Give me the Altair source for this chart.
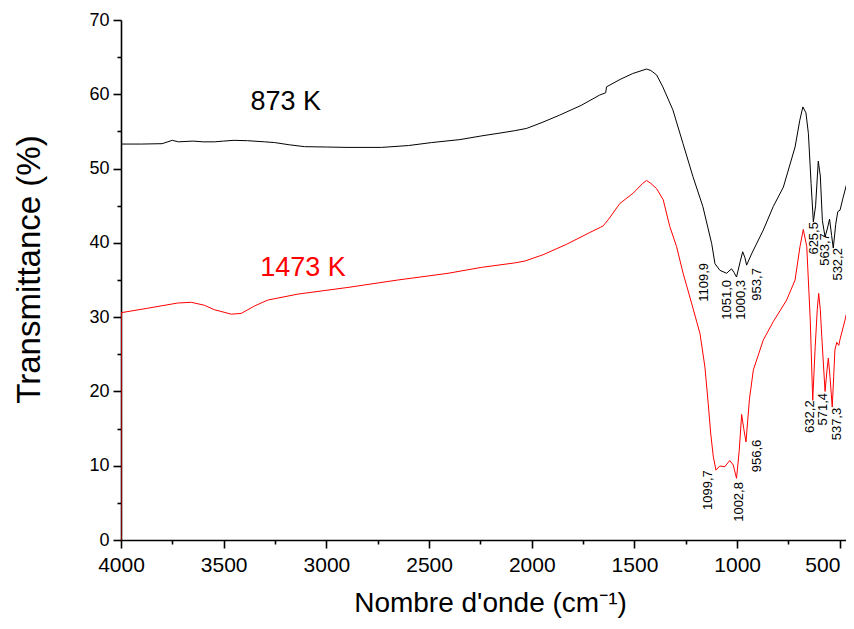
import altair as alt
import pandas as pd

# ---- data ----
black_wn = [4000, 3900, 3800, 3750, 3720, 3650, 3600, 3545, 3500, 3450, 3384, 3300, 3252, 3180, 3106,
            3000, 2900, 2731, 2600, 2488, 2350, 2244, 2150, 2083, 2026, 1950, 1864, 1760, 1669, 1640,
            1636, 1570, 1508, 1441, 1420, 1392, 1362, 1313, 1264, 1215, 1167, 1124, 1108, 1084, 1051,
            1040, 1027, 1015, 1003, 985, 973, 962, 954, 930, 873, 824, 775, 718, 695, 680, 665, 653,
            640, 629, 618, 605, 595, 585, 572, 560, 550, 540, 532, 520, 510, 499, 485, 466, 450, 431]
black_t = [53.3, 53.3, 53.35, 53.8, 53.6, 53.7, 53.6, 53.6, 53.7, 53.8, 53.75, 53.6, 53.5, 53.2, 52.95,
           52.9, 52.85, 52.85, 53.1, 53.5, 53.9, 54.4, 54.8, 55.1, 55.4, 56.2, 57.2, 58.5, 59.9, 60.2,
           61.0, 62.0, 62.8, 63.4, 63.2, 62.6, 61.0, 57.9, 53.4, 48.9, 44.9, 39.9, 37.2, 36.3, 35.9,
           36.2, 36.5, 36.0, 35.4, 37.5, 38.8, 38.0, 37.0, 38.5, 41.7, 44.9, 47.5, 52.9, 56.5, 58.3, 57.5, 54.7,
           48.0, 42.8, 45.0, 51.0, 49.0, 43.0, 40.8, 42.0, 43.2, 41.0, 39.3, 42.5, 44.2, 44.4, 46.0, 48.0, 51.0, 54.1]

red_wn = [4000, 3999, 3870, 3724, 3658, 3594, 3545, 3463, 3415, 3350, 3285, 3139, 2895, 2652, 2408,
          2245, 2083, 2034, 1945, 1831, 1717, 1665, 1652, 1628, 1571, 1506, 1460, 1441, 1420, 1392,
          1360, 1328, 1295, 1263, 1222, 1181, 1157, 1141, 1129, 1116, 1103, 1085, 1060, 1036, 1019,
          1003, 990, 978, 968, 957, 940, 921, 873, 824, 759, 718, 694, 678, 661, 644, 632, 620, 610,
          603, 595, 588, 572, 562, 556, 548, 537, 530, 524, 515, 505, 500, 475, 455, 431]
red_t = [0.0, 30.6, 31.2, 31.9, 32.0, 31.6, 31.0, 30.4, 30.5, 31.5, 32.3, 33.1, 34.0, 35.0, 35.9,
         36.7, 37.3, 37.55, 38.4, 39.8, 41.4, 42.1, 42.3, 43.1, 45.3, 46.7, 48.0, 48.4, 48.0, 47.3,
         45.8, 42.2, 39.5, 35.9, 31.9, 27.8, 23.3, 18.4, 14.4, 11.2, 9.4, 9.96, 9.87, 10.7, 10.1,
         8.3, 12.0, 16.9, 15.0, 13.2, 19.0, 22.9, 26.9, 29.4, 32.3, 35.0, 39.5, 41.8, 39.5, 29.6, 18.8, 26.0, 31.0,
         33.2, 31.0, 27.4, 20.0, 23.0, 24.5, 22.0, 17.9, 22.0, 25.6, 26.6, 26.2, 26.9, 29.6, 32.0, 35.0]

series_names = ["873 K", "1473 K"]
series_colors = ["#000000", "#ff0000"]

peak_labels = ["1109,9", "1051,0", "1000,3", "953,7", "625,5", "563,7", "532,2",
               "1099,7", "1002,8", "956,6", "632,2", "571,4", "537,3"]
peak_x = [1162, 1050, 981, 904, 626, 572, 508,
          1142, 991, 904, 645, 582, 514]
peak_y = [37.3, 35.0, 35.0, 36.6, 42.8, 41.3, 39.3,
          9.4, 7.8, 13.5, 18.8, 19.8, 17.8]

name_x = [3370, 3322]
name_y = [59.0, 36.6]

x_major = [4000, 3500, 3000, 2500, 2000, 1500, 1000, 500]
x_minor = [3750, 3250, 2750, 2250, 1750, 1250, 750]
y_major = [0, 10, 20, 30, 40, 50, 60, 70]
y_minor = [5, 15, 25, 35, 45, 55, 65]

# ---- tables ----
rows = []
for i, (w, t) in enumerate(zip(black_wn, black_t)):
    rows.append({"wn": w, "t": t, "s": series_names[0], "i": i})
for i, (w, t) in enumerate(zip(red_wn, red_t)):
    rows.append({"wn": w, "t": t, "s": series_names[1], "i": i})
df = pd.DataFrame(rows)
peaks = pd.DataFrame({"lab": peak_labels, "wn": peak_x, "t": peak_y})
names = pd.DataFrame({"lab": series_names, "wn": name_x, "t": name_y})

SANS = "Liberation Sans, Arial, Helvetica, sans-serif"
XDOM = [4000, 470]
xscale = alt.Scale(domain=XDOM, zero=False, nice=False)
yscale = alt.Scale(domain=[0, 70], nice=False, zero=False)

AX_COMMON = dict(domainColor="black", domainWidth=1.6, tickColor="black", tickWidth=1.6, grid=False)

x_main = alt.X("wn:Q", scale=xscale,
               axis=alt.Axis(values=x_major, format="d", tickSize=8, labelFont=SANS,
                             labelFontSize=21, labelColor="black", labelPadding=6,
                             labelAlign=alt.condition(alt.datum.value == 500, alt.value("right"),
                                                      alt.value("center")),
                             title="Nombre d'onde (cm\u207b\u00b9)", titleFont=SANS,
                             titleFontSize=28, titleFontWeight="normal", titleColor="black",
                             titleX=369, titleY=63, titleAlign="center", titleBaseline="middle",
                             orient="bottom", labelFlush=False, labelOverlap=False, **AX_COMMON))
y_main = alt.Y("t:Q", scale=yscale,
               axis=alt.Axis(values=y_major, tickSize=8, labelFont=SANS, labelFontSize=18,
                             labelColor="black", labelPadding=4,
                             title="Transmittance (%)", titleFont=SANS, titleFontSize=33,
                             titleFontWeight="normal", titleColor="black", titleAngle=-90,
                             titleX=-92, titleY=249, titleAlign="center", titleBaseline="middle",
                             orient="left", labelFlush=False, **AX_COMMON))

lines = alt.Chart(df).mark_line(strokeWidth=1, clip=True).encode(
    x=x_main, y=y_main,
    color=alt.Color("s:N", scale=alt.Scale(domain=series_names, range=series_colors), legend=None),
    order="i:Q",
)

x_min_enc = alt.X("wn:Q", scale=xscale,
                  axis=alt.Axis(values=x_minor, tickSize=4, labels=False, domain=False, title=None,
                                orient="bottom", tickColor="black", tickWidth=1.6, grid=False))
y_min_enc = alt.Y("t:Q", scale=yscale,
                  axis=alt.Axis(values=y_minor, tickSize=4, labels=False, domain=False, title=None,
                                orient="left", tickColor="black", tickWidth=1.6, grid=False))

minor = alt.Chart(peaks).mark_point(opacity=0).encode(x=x_min_enc, y=y_min_enc)

peak_text = alt.Chart(peaks).mark_text(angle=270, align="right", baseline="middle", fontSize=13,
                                       font=SANS, color="black").encode(
    x=alt.X("wn:Q", scale=xscale, axis=None), y=alt.Y("t:Q", scale=yscale, axis=None), text="lab:N")

name_text = alt.Chart(names).mark_text(align="left", baseline="middle", fontSize=27,
                                       font=SANS).encode(
    x=alt.X("wn:Q", scale=xscale, axis=None), y=alt.Y("t:Q", scale=yscale, axis=None), text="lab:N",
    color=alt.Color("lab:N", scale=alt.Scale(domain=series_names, range=series_colors), legend=None))

chart = alt.layer(lines, minor, peak_text, name_text).resolve_axis(
    x="independent", y="independent"
).properties(
    width=725, height=520,
    autosize=alt.AutoSizeParams(type="none"),
    padding={"left": 113, "top": 12, "right": 0, "bottom": 78},
).configure_view(stroke=None)

chart.save("out.html", embed_options={"renderer": "svg", "actions": False})
